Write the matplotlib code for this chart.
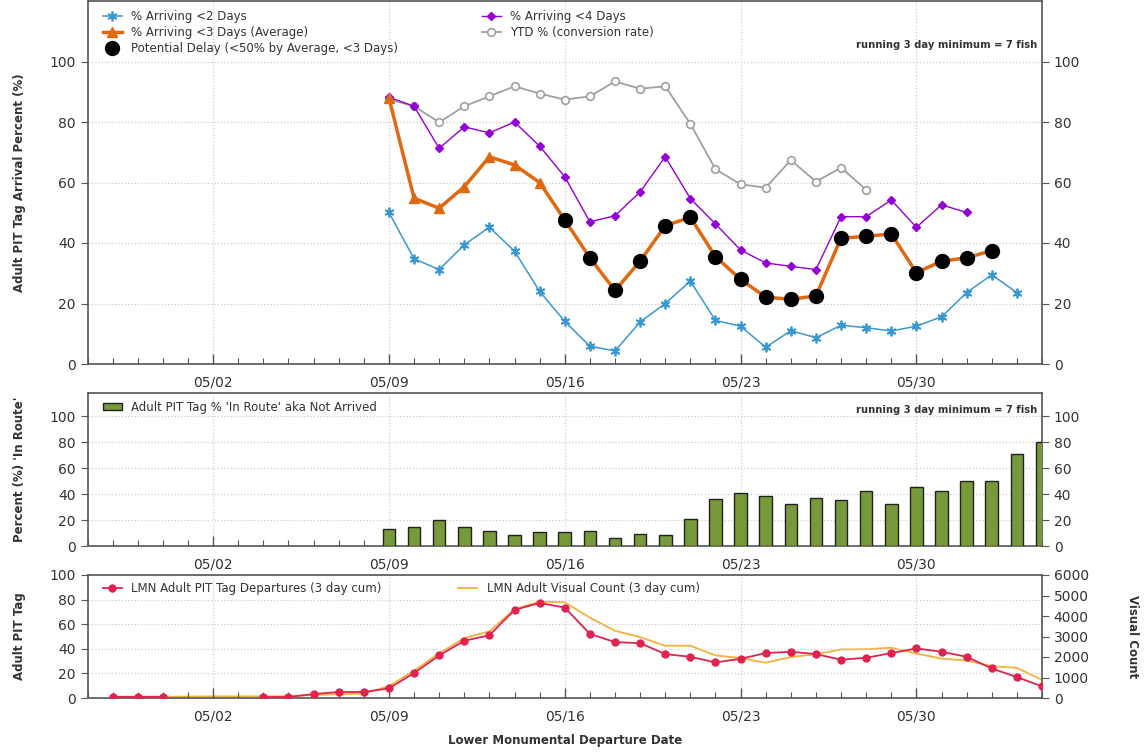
import matplotlib
matplotlib.use("Agg")
import matplotlib.pyplot as plt
import matplotlib.dates as mdates
import numpy as np
import pandas as pd
from matplotlib.patches import Patch
from matplotlib.lines import Line2D

plt.rcParams['font.family'] = ['DejaVu Sans']

# ---------------- data ----------------
dates_top = pd.date_range("2023-05-09", "2023-06-03", freq="D")
arr2 = [50.1, 34.8, 31.2, 39.4, 45.2, 37.3, 24.0, 14.1, 5.9, 4.3, 13.9, 20.0, 27.4,
        14.4, 12.5, 5.5, 11.0, 8.7, 12.8, 12.0, 10.9, 12.5, 15.6, 23.6, 29.5, 23.6]
dates_arr4 = pd.date_range("2023-05-09", "2023-06-01", freq="D")
arr4 = [88.2, 85.2, 71.3, 78.4, 76.4, 80.0, 72.0, 61.9, 47.0, 49.0, 56.9, 68.5, 54.7,
        46.3, 37.7, 33.4, 32.3, 31.2, 48.7, 48.7, 54.2, 45.2, 52.6, 50.1]
dates_arr3 = pd.date_range("2023-05-09", "2023-06-02", freq="D")
arr3 = [88.0, 54.8, 51.5, 58.6, 68.5, 65.8, 60.0, 47.6, 35.1, 24.3, 34.0, 45.7, 48.5,
        35.5, 28.0, 22.1, 21.4, 22.5, 41.6, 42.2, 43.0, 30.2, 34.0, 35.1, 37.5]
dates_ytd = pd.date_range("2023-05-09", "2023-05-28", freq="D")
ytd = [87.5, 85.2, 79.9, 85.2, 88.5, 91.8, 89.4, 87.4, 88.5, 93.4, 91.0, 91.8, 79.4,
       64.4, 59.4, 58.3, 67.4, 60.3, 64.9, 57.6]

dates_bar = pd.date_range("2023-05-09", "2023-06-04", freq="D")
in_route = [12.9, 15.0, 20.4, 15.0, 11.9, 8.5, 11.1, 11.1, 11.9, 6.5, 9.3, 8.5, 21.2,
            36.2, 40.6, 38.8, 32.3, 37.2, 35.1, 42.6, 32.3, 45.5, 42.6, 49.9, 49.9,
            71.0, 80.4]

dates_bot = pd.date_range("2023-04-28", "2023-06-04", freq="D")
pit_dep = [1.0, 1.0, 1.0, np.nan, np.nan, np.nan, 0.8, 0.8, 3.2, 4.9, 4.9, 7.8,
           20.3, 34.6, 46.5, 51.0, 71.6, 77.3, 73.5, 52.2, 45.4, 44.6, 35.7, 33.5,
           28.9, 31.9, 36.5, 37.6, 35.7, 31.1, 32.7, 36.5, 40.3, 37.6, 33.5, 24.0,
           17.0, 9.5]
visual = [50, 55, 60, 70, 80, 80, 80, 90, 150, 180, 215, 580,
          1330, 2180, 2920, 3250, 4330, 4700, 4670, 3920, 3280, 2970, 2550, 2550,
          2080, 1950, 1720, 2000, 2130, 2370, 2380, 2450, 2170, 1920, 1830, 1550,
          1470, 880]

delay_thresh = 50
delay_start = pd.Timestamp("2023-05-16")

xmin = pd.Timestamp("2023-04-27")
xmax = pd.Timestamp("2023-06-04")

# ---------------- figure ----------------
W, H = 1147, 753
fig = plt.figure(figsize=(W / 100, H / 100), dpi=100)

def frac(l, t, r, b):
    return [l / W, 1 - b / H, (r - l) / W, (b - t) / H]

ax1 = fig.add_axes(frac(87.5, 1, 1042, 364))
ax2 = fig.add_axes(frac(87.5, 393, 1042, 546))
ax3 = fig.add_axes(frac(87.5, 575, 1042, 698))

spine_c = '#555555'
txt_c = '#333333'

def style(ax):
    ax.set_xlim(xmin, xmax)
    ax.xaxis.set_major_locator(mdates.WeekdayLocator(byweekday=mdates.TU))
    ax.xaxis.set_minor_locator(mdates.DayLocator())
    ax.xaxis.set_major_formatter(mdates.DateFormatter('%m/%d'))
    ax.tick_params(axis='x', which='major', direction='in', length=7, width=1,
                   color=spine_c, labelsize=10, labelcolor=txt_c, pad=8)
    ax.tick_params(axis='x', which='minor', direction='in', length=4, width=0.8,
                   color=spine_c)
    ax.tick_params(axis='y', direction='out', length=5, width=0.8, color=spine_c,
                   labelsize=10, labelcolor=txt_c)
    for s in ax.spines.values():
        s.set_color(spine_c)
        s.set_linewidth(1.2)
    ax.grid(True, which='major', color='#cccccc', linestyle=':', linewidth=0.9)

def right_twin(ax, ylim, ticks):
    t = ax.twinx()
    t.set_ylim(*ylim)
    t.set_yticks(ticks)
    t.tick_params(axis='y', direction='out', length=5, width=0.8, color=spine_c,
                  labelsize=10, labelcolor=txt_c)
    for s in t.spines.values():
        s.set_visible(False)
    return t

# ---------- top panel ----------
style(ax1)
ax1.set_ylim(0, 120)
ax1.set_yticks(range(0, 101, 20))
blue = '#3a98d0'
purple = '#9400d3'
orange = '#e0680f'
grey = '#a0a0a0'

ax1.plot(dates_ytd, ytd, color=grey, lw=1.3, marker='o', ms=5.5, mfc='white',
         mec=grey, mew=1.2, label='YTD % (conversion rate)', zorder=3)
ax1.plot(dates_arr4, arr4, color=purple, lw=1.0, marker='D', ms=4.5, mec=purple,
         label='% Arriving <4 Days', zorder=4)
ax1.plot(dates_top, arr2, color=blue, lw=1.1, marker=(6, 2, 0), ms=7, mew=1.3,
         mec=blue, label='% Arriving <2 Days', zorder=4)
ax1.plot(dates_arr3, arr3, color=orange, lw=2.5, marker='^', ms=7,
         label='% Arriving <3 Days (Average)', zorder=5)
d3 = pd.Series(arr3, index=dates_arr3)
delay = d3[(d3 < delay_thresh) & (d3.index >= delay_start)]
ax1.plot(delay.index, delay.values, linestyle='none', marker='o', ms=10,
         color='black', label='Potential Delay (<50% by Average, <3 Days)', zorder=6)
ax1.set_ylabel('Adult PIT Tag Arrival Percent (%)', fontsize=8.5, fontweight='bold',
               color=txt_c, labelpad=17)
right_twin(ax1, (0, 120), range(0, 101, 20))

h, l = ax1.get_legend_handles_labels()
order = ['% Arriving <2 Days', '% Arriving <3 Days (Average)',
         'Potential Delay (<50% by Average, <3 Days)', '% Arriving <4 Days',
         'YTD % (conversion rate)']
hd = dict(zip(l, h))
ax1.legend([hd[o] for o in order], order, ncol=2, loc='upper left',
           bbox_to_anchor=(0.005, 1.005), frameon=False, fontsize=8.5,
           columnspacing=7.1, handlelength=1.6, handletextpad=0.8, labelspacing=0.28,
           labelcolor=txt_c)
ax1.text(0.995, 0.88, 'running 3 day minimum = 7 fish', transform=ax1.transAxes,
         ha='right', va='center', fontsize=7.2, color=txt_c, fontweight='semibold')

# ---------- middle panel ----------
style(ax2)
ax2.set_ylim(0, 118)
ax2.set_yticks(range(0, 101, 20))
green = '#77993a'
ax2.bar(dates_bar, in_route, width=0.5, color=green, edgecolor='#222222',
        linewidth=1.0, zorder=3)
ax2.set_ylabel("Percent (%) 'In Route'", fontsize=8.5, fontweight='bold',
               color=txt_c, labelpad=17)
ax2.legend([Patch(facecolor=green, edgecolor='#222222')],
           ["Adult PIT Tag % 'In Route' aka Not Arrived"], loc='upper left',
           bbox_to_anchor=(0.005, 1.02), frameon=False, fontsize=8.5,
           handlelength=1.6, handleheight=0.6, handletextpad=0.8, labelcolor=txt_c)
ax2.text(0.995, 0.89, 'running 3 day minimum = 7 fish', transform=ax2.transAxes,
         ha='right', va='center', fontsize=7.2, color=txt_c, fontweight='semibold')
right_twin(ax2, (0, 118), range(0, 101, 20))

# ---------- bottom panel ----------
style(ax3)
ax3.set_ylim(0, 100)
ax3.set_yticks(range(0, 101, 20))
red = '#e0224f'
vis_c = '#f2b33d'
t3 = right_twin(ax3, (0, 6000), range(0, 6001, 1000))
t3.plot(dates_bot, visual, color=vis_c, lw=1.3, zorder=2)
ax3.set_zorder(t3.get_zorder() + 1)
ax3.patch.set_visible(False)
ax3.plot(dates_bot, pit_dep, color=red, lw=1.3, marker='o', ms=5, zorder=4)
ax3.set_ylabel('Adult PIT Tag', fontsize=8.5, fontweight='bold', color=txt_c,
               labelpad=17)
t3.set_ylabel('Visual Count', fontsize=8.5, fontweight='bold', color=txt_c,
              rotation=-90, labelpad=36)
ax3.set_xlabel('Lower Monumental Departure Date', fontsize=8.5, fontweight='bold',
               color=txt_c, labelpad=8)
ax3.legend([Line2D([], [], color=red, marker='o', ms=5, lw=1.3),
            Line2D([], [], color=vis_c, lw=1.3)],
           ['LMN Adult PIT Tag Departures (3 day cum)',
            'LMN Adult Visual Count (3 day cum)'],
           ncol=2, loc='upper left', bbox_to_anchor=(0.005, 1.03), frameon=False,
           fontsize=8.5, columnspacing=6.5, handlelength=1.6, handletextpad=0.8,
           labelcolor=txt_c)

fig.savefig('out.png', dpi=100)
